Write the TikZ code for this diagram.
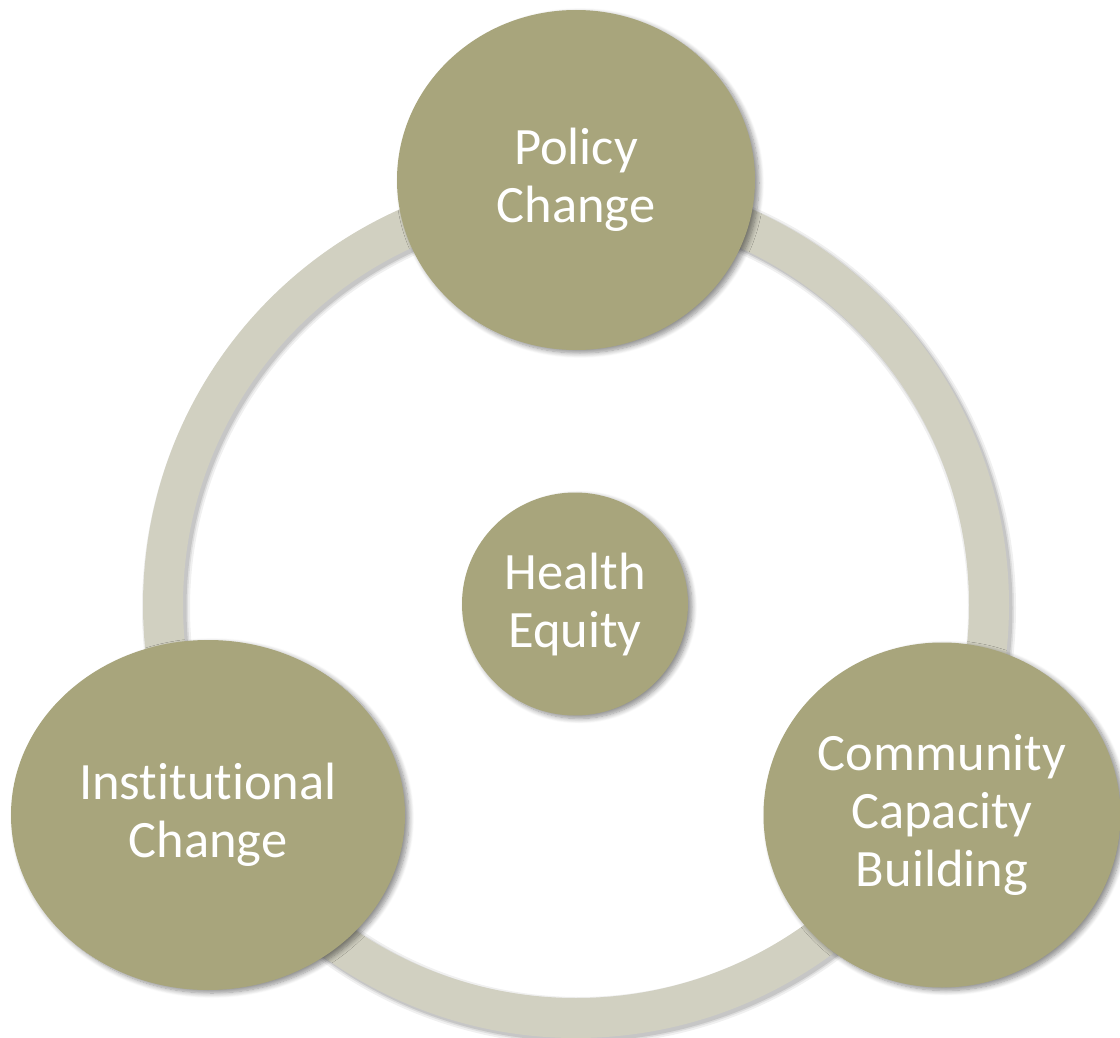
\documentclass[tikz,border=0pt]{standalone}
\usepackage{fontspec}
\setmainfont{Carlito}[Ligatures={NoCommon}]
\usetikzlibrary{shapes.geometric,shadows.blur}
\definecolor{olive}{HTML}{A8A57C}
\definecolor{ringc}{HTML}{D1D0C1}
\tikzset{
  bubble/.style={ellipse, fill=olive, text=white, align=center, inner sep=0pt,
    font=\fontsize{52.5}{58}\selectfont,
    blur shadow={shadow xshift=4pt, shadow yshift=-3pt, shadow blur steps=8, shadow blur radius=5pt, shadow opacity=45}},
  ring/.style={draw=ringc, line width=40pt}
}
\begin{document}
\begin{tikzpicture}[x=1pt,y=-1pt]
\useasboundingbox (0,0) rectangle (1120,1038);
% ring with soft shadow
\coordinate (c) at (576,605);
\foreach \o/\w in {0.06/48, 0.08/44, 0.10/41}{
  \draw[draw=black, opacity=\o, line width=\w pt] ([shift={(3,3)}]c) circle[radius=413];
}
\draw[ring] (c) circle[radius=413];
% bubbles
\node[bubble, minimum width=358pt, minimum height=340pt] (policy) at (576,180) {Policy\\Change};
\node[bubble, minimum width=394pt, minimum height=350pt] (inst) at (208,815) {Institutional\\Change};
\node[bubble, minimum width=357pt, minimum height=345pt] (comm) at (942,815) {Community\\Capacity\\Building};
\node[bubble, minimum width=226pt, minimum height=223pt] (health) at (575,604) {Health\\Equity};
\end{tikzpicture}
\end{document}
